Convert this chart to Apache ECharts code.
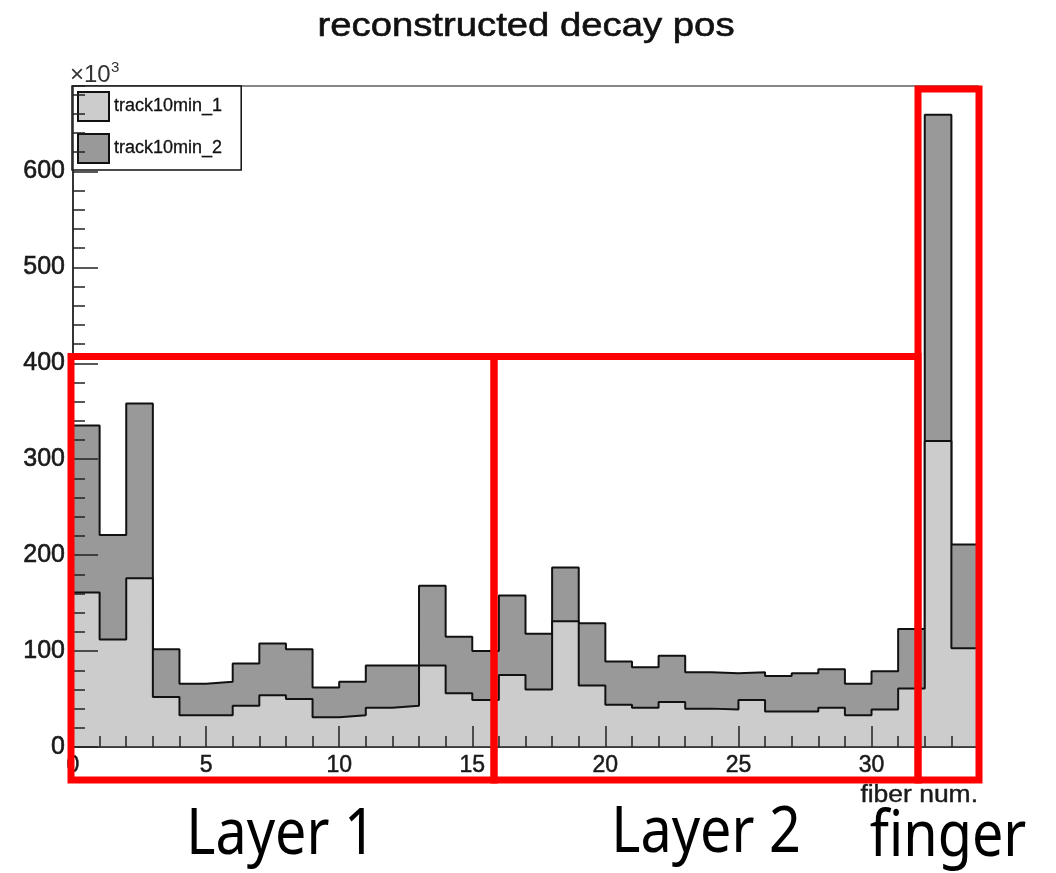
<!DOCTYPE html>
<html>
<head>
<meta charset="utf-8">
<script src="https://cdn.jsdelivr.net/npm/echarts@6/dist/echarts.min.js"></script>
<style>
html,body{margin:0;padding:0;background:#fff;}
#chart{width:1056px;height:873px;}
</style>
</head>
<body>
<div id="chart"></div>
<script>
// fiber bins (left edges), values in units of 10^3 entries
var fiberBins = [0,1,2,3,4,5,6,7,8,9,10,11,12,13,14,15,16,17,18,19,20,21,22,23,24,25,26,27,28,29,30,31,32,33];
var track10min_1 = [161,112,176,52,33,33,43,54,50,31,33,41,43,85,56,49,75,60,131,64,44,41,47,40,39,49,37,37,41,33,39,61,319,103];
var track10min_2 = [174,109,182,50,33,35,44,54,52,31,35,44,42,83,59,51,83,58,56,65,45,42,48,38,38,29,37,40,40,33,40,62,340,108];
var seriesNames = ['track10min_1','track10min_2'];
var titleText = 'reconstructed decay pos';
var xAxisTitle = 'fiber num.';
var yScaleText = '\u00d710';
var yScaleExp = '3';
var regionLabels = ['Layer 1','Layer 2','finger'];

var binWidth = 1;
var xMax = fiberBins[fiberBins.length-1] + binWidth;

// cumulative (stacked) heights
var stackTop = track10min_1.map(function(v,i){ return v + track10min_2[i]; });

// histogram outline polyline built from bin values
function stepPoints(vals){
  var pts = [[fiberBins[0], 0]];
  for (var i = 0; i < vals.length; i++){
    pts.push([fiberBins[i], vals[i]]);
    pts.push([fiberBins[i] + binWidth, vals[i]]);
  }
  pts.push([xMax, 0]);
  return pts;
}

var chart = echarts.init(document.getElementById('chart'));
var axisFont = 'Liberation Sans';

var option = {
  animation: false,
  backgroundColor: '#ffffff',
  grid: { left: 73, right: 78, top: 86, bottom: 126, show: true, borderColor: '#111', borderWidth: 1.2, backgroundColor: 'transparent' },
  legend: {
    orient: 'vertical', left: 72, top: 86,
    padding: [5, 19, 6, 5],
    itemWidth: 31, itemHeight: 29, itemGap: 11,
    backgroundColor: '#fff', borderColor: '#111', borderWidth: 1.5, borderRadius: 0,
    textStyle: { fontFamily: axisFont, fontSize: 18, color: '#111', textBorderColor: '#111', textBorderWidth: 0.3 },
    data: [
      { name: seriesNames[0], icon: 'rect', itemStyle: { color: '#cccccc', borderColor: '#111', borderWidth: 2 } },
      { name: seriesNames[1], icon: 'rect', itemStyle: { color: '#999999', borderColor: '#111', borderWidth: 2 } }
    ]
  },
  xAxis: [
    { type: 'value', min: 0, max: xMax, interval: 5, z: 5,
      axisLine: { show: true, lineStyle: { color: '#222', width: 1.5 } },
      axisTick: { show: true, inside: true, length: 21, lineStyle: { color: '#222', width: 1.5 } },
      axisLabel: { show: true, margin: 7, showMaxLabel: false, fontFamily: axisFont, fontSize: 23, color: '#1a1a1a', textBorderColor: '#1a1a1a', textBorderWidth: 0.5 },
      splitLine: { show: false } },
    { type: 'value', min: 0, max: xMax, interval: 1, z: 5, position: 'bottom',
      axisLine: { show: false },
      axisTick: { show: true, inside: true, length: 11, lineStyle: { color: '#222', width: 1.5 } },
      axisLabel: { show: false }, splitLine: { show: false } }
  ],
  yAxis: [
    { type: 'value', min: 0, max: 689, interval: 100, z: 5,
      axisLine: { show: true, lineStyle: { color: '#222', width: 1.5 } },
      axisTick: { show: true, inside: true, length: 25, lineStyle: { color: '#222', width: 1.5 } },
      axisLabel: { show: true, margin: 8, showMaxLabel: false, fontFamily: axisFont, fontSize: 25, color: '#1a1a1a', textBorderColor: '#1a1a1a', textBorderWidth: 0.6 },
      splitLine: { show: false } },
    { type: 'value', min: 0, max: 689, interval: 20, z: 5, position: 'left',
      axisLine: { show: false },
      axisTick: { show: true, inside: true, length: 12, lineStyle: { color: '#222', width: 1.5 } },
      axisLabel: { show: false }, splitLine: { show: false } }
  ],
  series: [
    { name: seriesNames[1], type: 'line', xAxisIndex: 0, yAxisIndex: 0, z: 2,
      data: stepPoints(stackTop), symbol: 'none', showSymbol: false,
      itemStyle: { color: '#999999' },
      lineStyle: { color: '#111', width: 2 },
      areaStyle: { color: '#999999', opacity: 1, origin: 'start' } },
    { name: seriesNames[0], type: 'line', xAxisIndex: 0, yAxisIndex: 0, z: 3,
      data: stepPoints(track10min_1), symbol: 'none', showSymbol: false,
      itemStyle: { color: '#cccccc' },
      lineStyle: { color: '#111', width: 2 },
      areaStyle: { color: '#cccccc', opacity: 1, origin: 'start' } }
  ],
  graphic: [
    { type: 'text', x: 526, y: 27, scaleX: 1.16, z: 10,
      style: { text: titleText, font: '33px "Liberation Sans"', fill: '#111', stroke: '#111', lineWidth: 0.6, textAlign: 'center', textVerticalAlign: 'middle' } },
    { type: 'text', x: 70, y: 75, z: 10,
      style: { text: yScaleText, font: '24px "Liberation Sans"', fill: '#333', textAlign: 'left', textVerticalAlign: 'middle' } },
    { type: 'text', x: 111, y: 68, z: 10,
      style: { text: yScaleExp, font: '15px "Liberation Sans"', fill: '#333', textAlign: 'left', textVerticalAlign: 'middle' } },
    { type: 'text', x: 978, y: 796, scaleX: 1.15, z: 10,
      style: { text: xAxisTitle, font: '23px "Liberation Sans"', fill: '#1a1a1a', stroke: '#1a1a1a', lineWidth: 0.4, textAlign: 'right', textVerticalAlign: 'middle' } },
    { type: 'rect', z: 20, shape: { x: 71, y: 356.5, width: 423, height: 423.5 },
      style: { fill: 'none', stroke: '#ff0000', lineWidth: 7 } },
    { type: 'rect', z: 20, shape: { x: 494, y: 356.5, width: 424, height: 423.5 },
      style: { fill: 'none', stroke: '#ff0000', lineWidth: 7 } },
    { type: 'rect', z: 20, shape: { x: 918, y: 89, width: 61, height: 691 },
      style: { fill: 'none', stroke: '#ff0000', lineWidth: 7 } },
    { type: 'text', x: 281, y: 836, scaleX: 0.87, z: 10,
      style: { text: regionLabels[0], font: '64px "Noto Sans"', fill: '#000', textAlign: 'center', textVerticalAlign: 'middle' } },
    { type: 'text', x: 706, y: 834, scaleX: 0.87, z: 10,
      style: { text: regionLabels[1], font: '64px "Noto Sans"', fill: '#000', textAlign: 'center', textVerticalAlign: 'middle' } },
    { type: 'text', x: 948, y: 838, scaleX: 0.87, z: 10,
      style: { text: regionLabels[2], font: '64px "Noto Sans"', fill: '#000', textAlign: 'center', textVerticalAlign: 'middle' } }
  ]
};
chart.setOption(option);
</script>
</body>
</html>
